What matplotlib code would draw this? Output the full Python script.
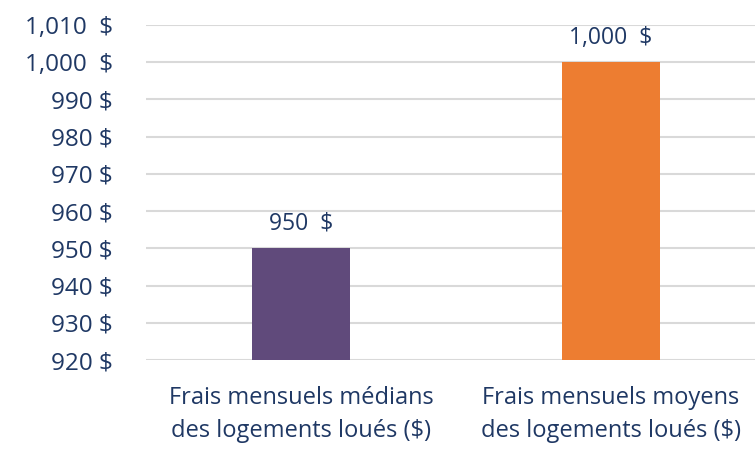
import matplotlib
matplotlib.use("Agg")
import matplotlib.pyplot as plt
from matplotlib.ticker import FuncFormatter

categories = ["Frais mensuels médians\ndes logements loués ($)",
              "Frais mensuels moyens\ndes logements loués ($)"]
values = [950, 1000]
colors = ["#604A7B", "#ED7D31"]
yticks = list(range(920, 1011, 10))

txt = "#1F3864"
plt.rcParams['font.family'] = ['Open Sans', 'DejaVu Sans']

fig = plt.figure(figsize=(7.55, 4.51), dpi=100)
ax = fig.add_axes([146/755, 91/451, 609/755, 335/451])
x = [0, 1]
ax.bar(x, values, width=0.316, color=colors, zorder=3)
ax.set_xlim(-0.5, 1.465)
ax.set_ylim(920, 1010)
ax.set_yticks(yticks)
ax.yaxis.set_major_formatter(FuncFormatter(lambda v, p: f"{int(v):,}  $" if v >= 1000 else f"{int(v)} $"))
ax.set_xticks(x)
ax.set_xticklabels(categories, fontsize=17, color=txt, linespacing=1.5)
ax.tick_params(axis='y', labelsize=17.5, labelcolor=txt, length=0, pad=24)
ax.tick_params(axis='x', length=0, pad=19)
ax.grid(axis='y', color='#D9D9D9', linewidth=1.5, zorder=0)
for s in ax.spines.values():
    s.set_visible(False)
for xi, v in zip(x, values):
    ax.annotate(f"{v:,}  $" if v >= 1000 else f"{v}  $", (xi, v), xytext=(0, 9),
                textcoords='offset points', ha='center', va='bottom',
                fontsize=16.5, color=txt)
fig.savefig("out.png", dpi=100)
